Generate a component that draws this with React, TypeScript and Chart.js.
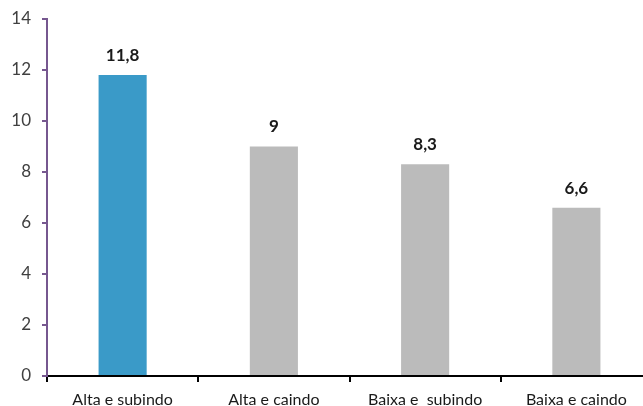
import React, { useEffect, useRef } from "react";
import { Chart, registerables } from "chart.js";

Chart.register(...registerables);

const categories = ["Alta e subindo", "Alta e caindo", "Baixa e  subindo", "Baixa e caindo"];
const values = [11.8, 9, 8.3, 6.6];
const valueLabels = ["11,8", "9", "8,3", "6,6"];
const barColors = ["#3A9AC8", "#BBBBBB", "#BBBBBB", "#BBBBBB"];
const yTicks = [0, 2, 4, 6, 8, 10, 12, 14];

const FONT = "Lato, 'Open Sans', sans-serif";

const labelPlugin = {
  id: "valueLabels",
  afterDatasetsDraw(chart: any) {
    const ctx = chart.ctx;
    const meta = chart.getDatasetMeta(0);
    ctx.save();
    ctx.font = `bold 17px ${FONT}`;
    ctx.fillStyle = "#1a1a1a";
    ctx.textAlign = "center";
    ctx.textBaseline = "bottom";
    meta.data.forEach((bar: any, i: number) => {
      ctx.fillText(valueLabels[i], bar.x, bar.y - 11);
    });
    ctx.restore();
  },
};

export default function App() {
  const ref = useRef<HTMLCanvasElement>(null);
  useEffect(() => {
    document.body.style.margin = "0";
    document.documentElement.style.overflow = "hidden";
    document.body.style.overflow = "hidden";
    const chart = new Chart(ref.current!, {
      type: "bar",
      data: {
        labels: categories,
        datasets: [
          {
            data: values,
            backgroundColor: barColors,
            categoryPercentage: 1,
            barPercentage: 0.318,
          },
        ],
      },
      options: {
        responsive: false,
        animation: false,
        layout: { padding: { top: 19, right: 0, left: 0, bottom: 0 } },
        plugins: { legend: { display: false }, tooltip: { enabled: false } },
        scales: {
          x: {
            grid: {
              offset: true,
              drawOnChartArea: false,
              drawTicks: true,
              tickLength: 6,
              color: "#000000",
              lineWidth: 2,
            },
            border: { color: "#000000", width: 2 },
            ticks: {
              color: "#1a1a1a",
              font: { family: FONT, size: 16 },
              padding: 8,
              maxRotation: 0,
              autoSkip: false,
            },
            afterFit(scale: any) {
              scale.height = 30;
              scale.paddingLeft = 0;
              scale.paddingRight = 0;
            },
          },
          y: {
            min: 0,
            max: 14,
            afterBuildTicks(scale: any) {
              scale.ticks = yTicks.map((v) => ({ value: v }));
            },
            grid: {
              drawOnChartArea: false,
              drawTicks: true,
              tickLength: 5,
              color: "#76578F",
              lineWidth: 2,
            },
            border: { color: "#76578F", width: 2 },
            ticks: {
              color: "#404040",
              font: { family: FONT, size: 17 },
              padding: 11,
            },
            afterFit(scale: any) {
              scale.width = 47;
              scale.paddingTop = 0;
              scale.paddingBottom = 0;
            },
          },
        },
      },
      plugins: [labelPlugin],
    });
    return () => chart.destroy();
  }, []);
  return (
    <div style={{ width: 652, height: 406, overflow: "visible" }}>
      <canvas ref={ref} width={652} height={406} style={{ display: "block" }} />
    </div>
  );
}
